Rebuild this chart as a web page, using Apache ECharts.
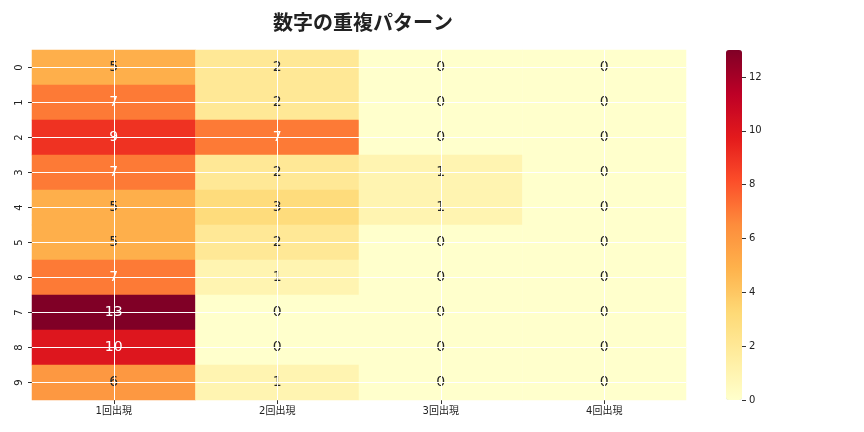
<!DOCTYPE html>
<html><head><meta charset="utf-8">
<script src="https://cdn.jsdelivr.net/npm/echarts@6/dist/echarts.min.js"></script>
<style>html,body{margin:0;padding:0;background:#fff}#c{width:864px;height:432px}</style>
</head><body><div id="c"></div>
<script>
const title = '数字の重複パターン';
const columns = ['1回出現', '2回出現', '3回出現', '4回出現'];
const rows = ['0', '1', '2', '3', '4', '5', '6', '7', '8', '9'];
const col1 = [5, 7, 9, 7, 5, 5, 7, 13, 10, 6];
const col2 = [2, 2, 7, 2, 3, 2, 1, 0, 0, 1];
const col3 = [0, 0, 0, 1, 1, 0, 0, 0, 0, 0];
const col4 = [0, 0, 0, 0, 0, 0, 0, 0, 0, 0];
const colorMin = 0, colorMax = 13;
const colorTicks = [0, 2, 4, 6, 8, 10, 12];

const cols = [col1, col2, col3, col4];
const data = [];
cols.forEach((arr, c) => arr.forEach((v, r) => {
  data.push({ value: [c, r, v], label: { color: v > 6.5 ? '#ffffff' : '#262626' } });
}));

const font = 'DejaVu Sans, Noto Sans CJK JP, sans-serif';
const chart = echarts.init(document.getElementById('c'));
chart.setOption({
  animation: false,
  backgroundColor: '#fff',
  title: { text: title, left: 358, top: 7, textAlign: 'center',
    textStyle: { fontFamily: 'Noto Sans CJK JP', fontWeight: 'bold', fontSize: 20, color: '#222' } },
  grid: [
    { left: 32, right: 178, top: 50, height: 350 },
    { left: 742, width: 20, top: 50, height: 350 }
  ],
  xAxis: [
    { type: 'category', data: columns, gridIndex: 0, position: 'bottom',
      axisLine: { show: false }, splitLine: { show: false },
      axisTick: { show: true, alignWithLabel: true, length: 4, lineStyle: { color: '#333' } },
      axisLabel: { fontSize: 10, color: '#222', fontFamily: font, margin: 6 } },
    { type: 'value', gridIndex: 1, show: false }
  ],
  yAxis: [
    { type: 'category', data: rows, gridIndex: 0, inverse: true,
      axisLine: { show: false }, splitLine: { show: false },
      axisTick: { show: true, alignWithLabel: true, length: 4, lineStyle: { color: '#333' } },
      axisLabel: { fontSize: 10, color: '#222', fontFamily: font, rotate: 90, margin: 8 } },
    { type: 'value', gridIndex: 1, min: colorMin, max: colorMax, interval: 2, position: 'left', z: 10,
      axisLine: { show: false }, splitLine: { show: false },
      axisTick: { show: true, inside: true, length: 4, customValues: colorTicks, lineStyle: { color: '#333', width: 1 } },
      axisLabel: { inside: true, fontSize: 10, color: '#222', fontFamily: font, margin: 7,
        customValues: colorTicks, formatter: v => colorTicks.includes(v) ? String(v) : '' } }
  ],
  visualMap: {
    type: 'continuous', min: colorMin, max: colorMax, calculable: false,
    orient: 'vertical', left: 726, top: 50, itemWidth: 16, itemHeight: 350,
    padding: 0, text: null, showLabel: false, seriesIndex: 0, hoverLink: false,
    indicatorSize: 0, handleSize: 0,
    inRange: { color: ['#ffffcc', '#ffeda0', '#fed976', '#feb24c', '#fd8d3c', '#fc4e2a', '#e31a1c', '#bd0026', '#800026'] }
  },
  series: [{
    type: 'heatmap', xAxisIndex: 0, yAxisIndex: 0, data: data,
    itemStyle: { borderWidth: 0 },
    label: { show: true, fontSize: 14, fontFamily: font, formatter: p => String(p.value[2]) },
    emphasis: { disabled: true },
    markLine: {
      silent: true, symbol: 'none', animation: false,
      label: { show: false },
      lineStyle: { color: '#ffffff', width: 1, type: 'solid', opacity: 1 },
      data: columns.map((c, i) => ({ xAxis: i })).concat(rows.map((r, i) => ({ yAxis: i })))
    }
  }]
});
</script></body></html>
